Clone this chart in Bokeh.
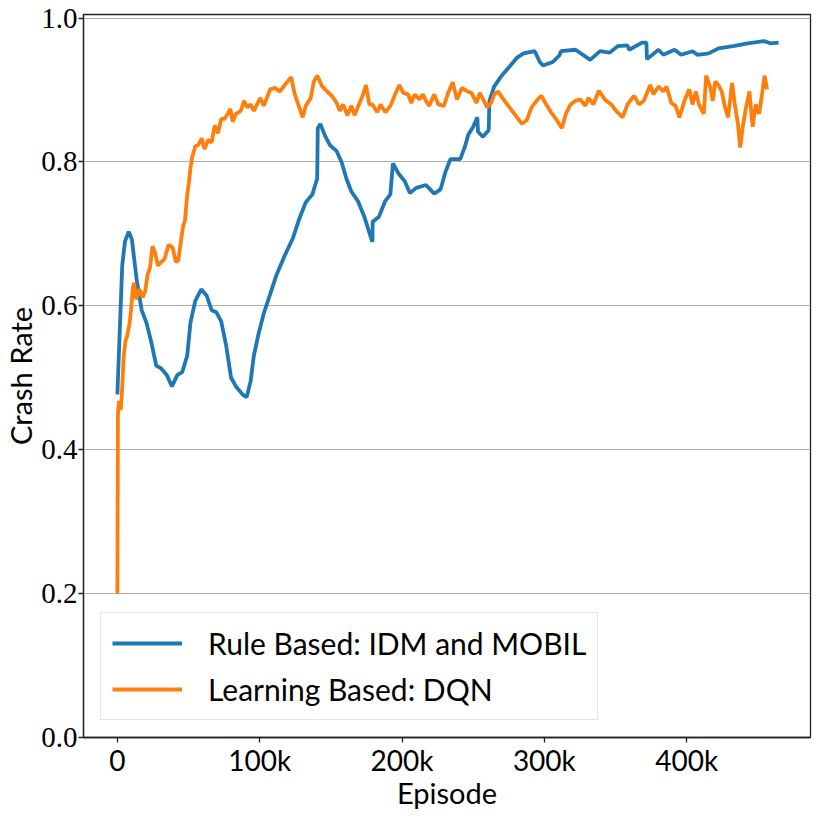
from bokeh.plotting import figure
from bokeh.models import FixedTicker, Range1d, Legend, LegendItem, ColumnDataSource
from bokeh.embed import file_html
from bokeh.resources import INLINE

# ---- data (episodes, crash rate) ----
rule_x_k = [0, 3.4, 5.4, 8.0, 10.2, 13.7, 17.1, 20.5, 23.9, 27.3, 30.8, 34.7, 38.3, 42.2,
            45.6, 49.1, 51.3, 54.7, 58.9, 62.8, 66.2, 69.6, 73.0, 76.5, 79.9, 83.3, 87.9,
            90.8, 93.6, 95.9, 99.3, 102.8, 107.3, 111.8, 117.6, 123.3, 127.8, 132.4, 137.0,
            140.4, 140.8, 142.6, 146.0, 149.5, 154.1, 157.5, 160.9, 164.4, 168.9, 173.5,
            178.1, 179.2, 179.4, 183.8, 188.3, 191.8, 193.6, 197.5, 202.0, 205.5, 210.0,
            216.8, 222.6, 227.1, 230.5, 234.0, 240.9, 244.3, 246.5, 250.0, 252.9, 253.4,
            256.8, 260.9, 261.4, 264.8, 270.4, 276.2, 280.8, 285.4, 293.3, 296.8, 299.1,
            305.9, 310.5, 311.7, 321.9, 332.2, 339.1, 345.9, 351.5, 358.4, 359.6, 368.7,
            371.7, 372.1, 380.2, 383.6, 391.5, 396.1, 404.1, 407.5, 415.5, 422.3, 432.6,
            442.9, 454.3, 458.9, 464.6]
rule_y = [0.477, 0.656, 0.690, 0.703, 0.692, 0.634, 0.594, 0.576, 0.549, 0.517, 0.513, 0.504,
          0.488, 0.504, 0.508, 0.531, 0.576, 0.607, 0.623, 0.614, 0.594, 0.591, 0.578, 0.544,
          0.500, 0.488, 0.477, 0.473, 0.495, 0.531, 0.562, 0.589, 0.616, 0.643, 0.670, 0.694,
          0.721, 0.744, 0.755, 0.777, 0.847, 0.853, 0.836, 0.823, 0.815, 0.800, 0.777, 0.759,
          0.746, 0.724, 0.695, 0.689, 0.717, 0.724, 0.746, 0.755, 0.798, 0.784, 0.773, 0.757,
          0.764, 0.768, 0.756, 0.762, 0.786, 0.804, 0.804, 0.822, 0.838, 0.849, 0.862, 0.842,
          0.835, 0.844, 0.885, 0.905, 0.921, 0.934, 0.945, 0.951, 0.954, 0.939, 0.934, 0.939,
          0.948, 0.954, 0.956, 0.942, 0.954, 0.952, 0.961, 0.962, 0.956, 0.966, 0.966, 0.943,
          0.956, 0.949, 0.956, 0.949, 0.954, 0.949, 0.951, 0.958, 0.961, 0.965, 0.968, 0.965,
          0.966]

dqn_x_k = [0, 0.4, 1.1, 2.3, 3.4, 4.5, 5.7, 6.8, 8.6, 9.6, 10.9, 11.8, 13.2, 15.5, 17.8, 19.6,
           21.2, 22.8, 24.7, 26.2, 28.5, 30.8, 33.1, 36.0, 38.8, 41.1, 42.8, 44.5, 46.1, 47.5,
           49.1, 50.2, 51.3, 52.5, 54.7, 57.0, 59.3, 61.2, 63.9, 66.2, 68.4, 70.7, 73.0, 75.3,
           77.6, 79.4, 81.0, 83.3, 86.7, 89.0, 91.3, 93.6, 95.9, 98.1, 100.4, 102.8, 105.0,
           107.3, 110.7, 114.1, 117.6, 122.1, 124.4, 126.7, 130.2, 132.4, 135.8, 138.1, 140.4,
           143.9, 147.3, 150.7, 154.1, 156.3, 158.6, 161.6, 164.4, 166.6, 170.1, 172.3, 174.7,
           177.0, 179.2, 182.6, 184.9, 188.3, 191.8, 195.2, 198.1, 200.9, 204.3, 206.5, 208.9,
           212.3, 214.6, 216.8, 219.2, 222.6, 225.5, 229.4, 232.4, 235.6, 238.6, 242.0, 246.1,
           248.8, 252.3, 254.6, 257.5, 259.8, 262.5, 264.9, 267.5, 270.5, 273.9, 277.3, 280.8,
           284.2, 287.6, 291.0, 294.5, 297.9, 301.3, 304.7, 308.1, 312.3, 315.1, 318.4, 321.9,
           325.3, 328.8, 331.0, 334.4, 338.3, 342.5, 347.0, 350.4, 355.0, 358.4, 363.0, 366.5,
           369.9, 374.4, 376.7, 380.2, 383.6, 385.8, 389.2, 392.2, 394.9, 398.4, 401.8, 404.1,
           406.4, 408.6, 412.0, 413.7, 416.7, 418.3, 420.1, 422.3, 424.6, 426.9, 429.1, 431.9,
           433.8, 436.0, 437.6, 439.4, 441.7, 444.1, 446.3, 448.6, 450.9, 453.2, 454.7, 456.5]
dqn_y = [0.200, 0.450, 0.468, 0.455, 0.486, 0.531, 0.551, 0.558, 0.576, 0.594, 0.625, 0.632,
         0.609, 0.623, 0.612, 0.621, 0.643, 0.652, 0.683, 0.676, 0.656, 0.661, 0.665, 0.685,
         0.681, 0.661, 0.663, 0.688, 0.710, 0.719, 0.755, 0.770, 0.791, 0.806, 0.822, 0.824,
         0.833, 0.818, 0.831, 0.827, 0.851, 0.840, 0.860, 0.860, 0.867, 0.874, 0.856, 0.867,
         0.871, 0.885, 0.876, 0.880, 0.871, 0.880, 0.889, 0.878, 0.889, 0.901, 0.903, 0.898,
         0.907, 0.918, 0.896, 0.882, 0.862, 0.878, 0.889, 0.912, 0.920, 0.905, 0.898, 0.892,
         0.882, 0.871, 0.880, 0.865, 0.878, 0.865, 0.882, 0.892, 0.907, 0.880, 0.880, 0.869,
         0.880, 0.869, 0.878, 0.894, 0.907, 0.896, 0.894, 0.882, 0.894, 0.887, 0.894, 0.885,
         0.878, 0.894, 0.880, 0.878, 0.896, 0.911, 0.887, 0.903, 0.898, 0.896, 0.882, 0.896,
         0.885, 0.876, 0.882, 0.894, 0.898, 0.889, 0.880, 0.871, 0.862, 0.853, 0.858, 0.876,
         0.885, 0.892, 0.880, 0.869, 0.860, 0.847, 0.867, 0.880, 0.885, 0.887, 0.878, 0.889,
         0.880, 0.899, 0.887, 0.880, 0.871, 0.862, 0.880, 0.892, 0.880, 0.885, 0.907, 0.894,
         0.905, 0.898, 0.905, 0.882, 0.878, 0.862, 0.885, 0.901, 0.880, 0.898, 0.880, 0.867,
         0.920, 0.903, 0.885, 0.912, 0.907, 0.898, 0.876, 0.862, 0.910, 0.880, 0.853, 0.820,
         0.849, 0.876, 0.898, 0.849, 0.880, 0.867, 0.898, 0.920, 0.901]

x_ticks = [0, 100000, 200000, 300000, 400000]
x_tick_labels = ["0", "100k", "200k", "300k", "400k"]
y_ticks = [0.0, 0.2, 0.4, 0.6, 0.8, 1.0]
y_tick_labels = ["0.0", "0.2", "0.4", "0.6", "0.8", "1.0"]
series_names = ["Rule Based: IDM and MOBIL", "Learning Based: DQN"]
colors = ["#1f77b4", "#ff7f0e"]

rule_src = ColumnDataSource(dict(x=[v * 1000 for v in rule_x_k], y=rule_y))
dqn_src = ColumnDataSource(dict(x=[v * 1000 for v in dqn_x_k], y=dqn_y))

SANS = "Lato"
SERIF = "Liberation Serif"

p = figure(width=814, height=812, output_backend="svg", toolbar_location=None,
           x_range=Range1d(-23800, 487000), y_range=Range1d(0, 1.005),
           min_border_left=60, min_border_right=4, min_border_top=14, min_border_bottom=40)

r1 = p.line("x", "y", source=rule_src, line_color=colors[0], line_width=3.8)
r2 = p.line("x", "y", source=dqn_src, line_color=colors[1], line_width=3.8)

p.background_fill_color = "white"
p.border_fill_color = "white"
p.outline_line_color = "#222222"
p.outline_line_width = 1.3
p.outline_line_alpha = 1.0

p.xgrid.visible = False
p.ygrid.grid_line_color = "#b0b0b0"
p.ygrid.grid_line_width = 1.2

p.xaxis.ticker = FixedTicker(ticks=x_ticks)
p.xaxis.major_label_overrides = {t: l for t, l in zip(x_ticks, x_tick_labels)}
p.yaxis.ticker = FixedTicker(ticks=y_ticks)
p.yaxis.major_label_overrides = {t: l for t, l in zip(y_ticks, y_tick_labels)}

for ax in (p.xaxis, p.yaxis):
    ax.axis_line_color = "#222222"
    ax.axis_line_width = 1.3
    ax.major_tick_line_color = "#222222"
    ax.major_tick_line_width = 1.3
    ax.major_tick_out = 5
    ax.major_tick_in = 0
    ax.minor_tick_line_color = None
    ax.major_label_text_color = "black"
    ax.axis_label_text_color = "black"
    ax.axis_label_text_font_style = "normal"
    ax.major_label_text_line_height = 0.8
    ax.axis_label_text_line_height = 0.8

p.xaxis.axis_label = "Episode"
p.xaxis.axis_label_text_font = SANS
p.xaxis.axis_label_text_font_size = "29px"
p.xaxis.axis_label_standoff = -5
p.xaxis.major_label_text_font = SANS
p.xaxis.major_label_text_font_size = "28px"
p.xaxis.major_label_standoff = 0

p.yaxis.axis_label = "Crash Rate"
p.yaxis.axis_label_text_font = SANS
p.yaxis.axis_label_text_font_size = "29px"
p.yaxis.axis_label_standoff = 0
p.yaxis.major_label_text_font = SERIF
p.yaxis.major_label_text_font_size = "29px"
p.yaxis.major_label_standoff = 1

legend = Legend(items=[LegendItem(label=series_names[0], renderers=[r1]),
                       LegendItem(label=series_names[1], renderers=[r2])],
                location=(17, 17))
legend.label_text_font = SANS
legend.label_text_font_size = "30px"
legend.label_text_color = "black"
legend.glyph_width = 70
legend.glyph_height = 38
legend.label_height = 38
legend.label_standoff = 26
legend.padding = 11
legend.spacing = 8
legend.margin = 0
legend.border_line_color = "#cccccc"
legend.border_line_width = 1.2
legend.background_fill_alpha = 0.8
p.add_layout(legend, "center")

open("out.html", "w").write(file_html(p, INLINE))
